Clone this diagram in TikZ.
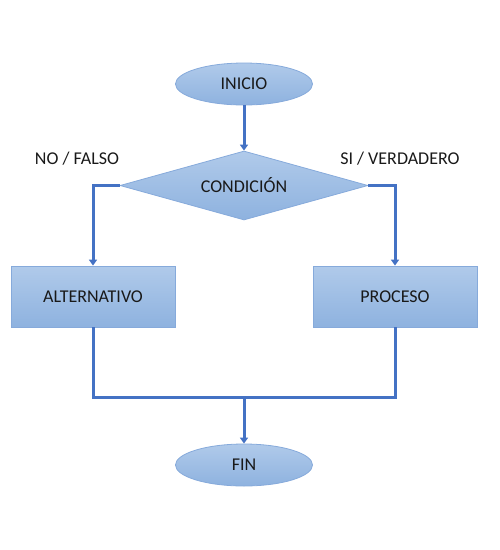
\documentclass[tikz,border=0pt]{standalone}
\usepackage{fontspec}
\setmainfont{Carlito}
\usepackage{tikz}
\usetikzlibrary{shapes.geometric,arrows.meta}

\definecolor{lineblue}{HTML}{4472C4}
\definecolor{filltop}{HTML}{B0CAEA}
\definecolor{fillbot}{HTML}{8EB2DF}
\definecolor{edgeblue}{HTML}{86AADB}

\tikzset{
    shapebox/.style={draw=edgeblue, line width=0.8pt, top color=filltop, bottom color=fillbot,
        font=\fontsize{18}{21}\selectfont, text=black!90, inner sep=0pt},
    terminal/.style={shapebox, ellipse, minimum width=137pt, minimum height=42pt},
    decision/.style={shapebox, diamond, aspect=3.6, minimum width=248pt, minimum height=69pt},
    process/.style={shapebox, rectangle, minimum width=164pt, minimum height=61pt},
    flow/.style={draw=lineblue, line width=3pt},
    flowarrow/.style={flow, -{Triangle[width=8pt,length=6pt]}},
    tag/.style={font=\fontsize{18}{21}\selectfont, text=black!90}
}

\begin{document}
\begin{tikzpicture}[x=1pt, y=-1pt]
    \useasboundingbox (0,0) rectangle (500,550);

    % Flow shapes
    \node[terminal] (inicio) at (244,84) {INICIO};
    \node[decision] (cond) at (244,185.5) {CONDICIÓN};
    \node[process] (alt) at (93,296.5) {ALTERNATIVO};
    \node[process] (proc) at (395,296.5) {PROCESO};
    \node[terminal] (fin) at (244,465) {FIN};
    \coordinate (join) at (244,397);

    % Branch labels
    \node[tag] (nolabel) at (77,159) {NO / FALSO};
    \node[tag] (silabel) at (400,159) {SI / VERDADERO};

    % Connectors
    \draw[flowarrow] (inicio) -- (cond);
    \draw[flowarrow] (cond.west) -| (alt.north);
    \draw[flowarrow] (cond.east) -| (proc.north);
    \draw[flow] (alt.south) |- (join);
    \draw[flow] (proc.south) |- (join);
    \draw[flowarrow] (join) -- (fin);
\end{tikzpicture}
\end{document}
